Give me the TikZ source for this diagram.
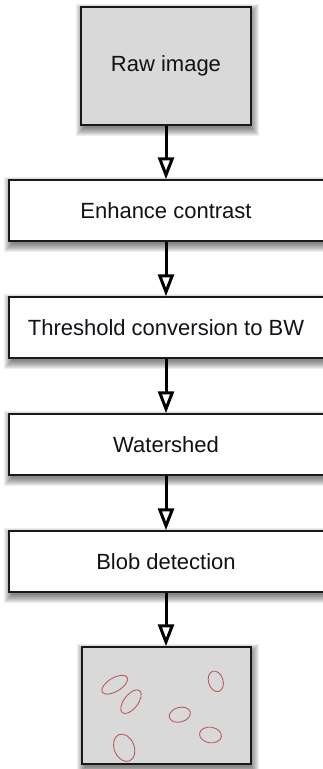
\documentclass[tikz,border=0pt]{standalone}
\usepackage{fontspec}
\setmainfont{Liberation Sans}
\usetikzlibrary{arrows.meta,backgrounds,calc}

\definecolor{panelgray}{HTML}{D9D9D9}
\definecolor{blobred}{HTML}{B5504F}
\definecolor{inkdark}{HTML}{111118}

\tikzset{
  stage/.style={draw=black!90, line width=1.5pt, fill=white, inner sep=0pt,
    font=\fontsize{22}{26}\selectfont, text=inkdark},
  widestage/.style={stage, minimum width=317pt, minimum height=61pt},
  imgbox/.style={stage, fill=panelgray, minimum width=170pt, minimum height=118pt},
  flow/.style={line width=3pt, black,
    -{Triangle[fill=white, length=22pt, width=16pt]}},
  blob/.style={draw=blobred, line width=0.9pt, draw opacity=0.9},
}

% soft drop shadow built from stacked translucent rectangles
\newcommand\castshadow[1]{%
  \begin{scope}[on background layer]
    \foreach \e in {-2,...,6} {
      \fill[black, fill opacity=0.065]
        ($(#1.south west)+(1.5-\e, 4+\e)$) rectangle ($(#1.north east)+(1.5+\e, 4-\e)$);
    }
  \end{scope}}

\begin{document}
\begin{tikzpicture}[x=1pt, y=-1pt]
  \clip (0,0) rectangle (323,769);

  % processing stages
  \node[imgbox] (raw) at (166,66) {Raw image};
  \node[widestage] (enhance) at (167.5,210.5) {\hspace*{-3pt}Enhance contrast};
  \node[widestage] (thresh) at (167.5,327.5) {\hspace*{-3pt}Threshold conversion to BW};
  \node[widestage] (water) at (167.5,444.5) {\hspace*{-3pt}Watershed};
  \node[widestage] (blobdet) at (167.5,561.5) {\hspace*{-3pt}Blob detection};
  \node[imgbox, minimum height=117pt, minimum width=169pt] (result) at (166.5,705.5) {};

  \foreach \n in {raw,enhance,thresh,water,blobdet,result} { \castshadow{\n} }

  % connectors
  \draw[flow] (raw.south) -- (raw.south |- enhance.north);
  \draw[flow] (raw.south |- enhance.south) -- (raw.south |- thresh.north);
  \draw[flow] (raw.south |- thresh.south) -- (raw.south |- water.north);
  \draw[flow] (raw.south |- water.south) -- (raw.south |- blobdet.north);
  \draw[flow] (raw.south |- blobdet.south) -- (raw.south |- result.north);

  % detected blobs
  \draw[blob, shift={(114.7,684.7)}, rotate=31] (0,0) ellipse [x radius=14.5pt, y radius=6.8pt];
  \draw[blob, shift={(131,701.7)}, rotate=52] (0,0) ellipse [x radius=14pt, y radius=7pt];
  \draw[blob, shift={(215.8,681.3)}, rotate=-73] (0,0) ellipse [x radius=10.5pt, y radius=7.3pt];
  \draw[blob, shift={(179.8,714.7)}, rotate=15] (0,0) ellipse [x radius=10.8pt, y radius=7.3pt];
  \draw[blob, shift={(210.5,735)}, rotate=-8] (0,0) ellipse [x radius=11pt, y radius=7.8pt];
  \draw[blob, shift={(124.2,747.8)}, rotate=-68] (0,0) ellipse [x radius=14.2pt, y radius=10pt];
\end{tikzpicture}
\end{document}
